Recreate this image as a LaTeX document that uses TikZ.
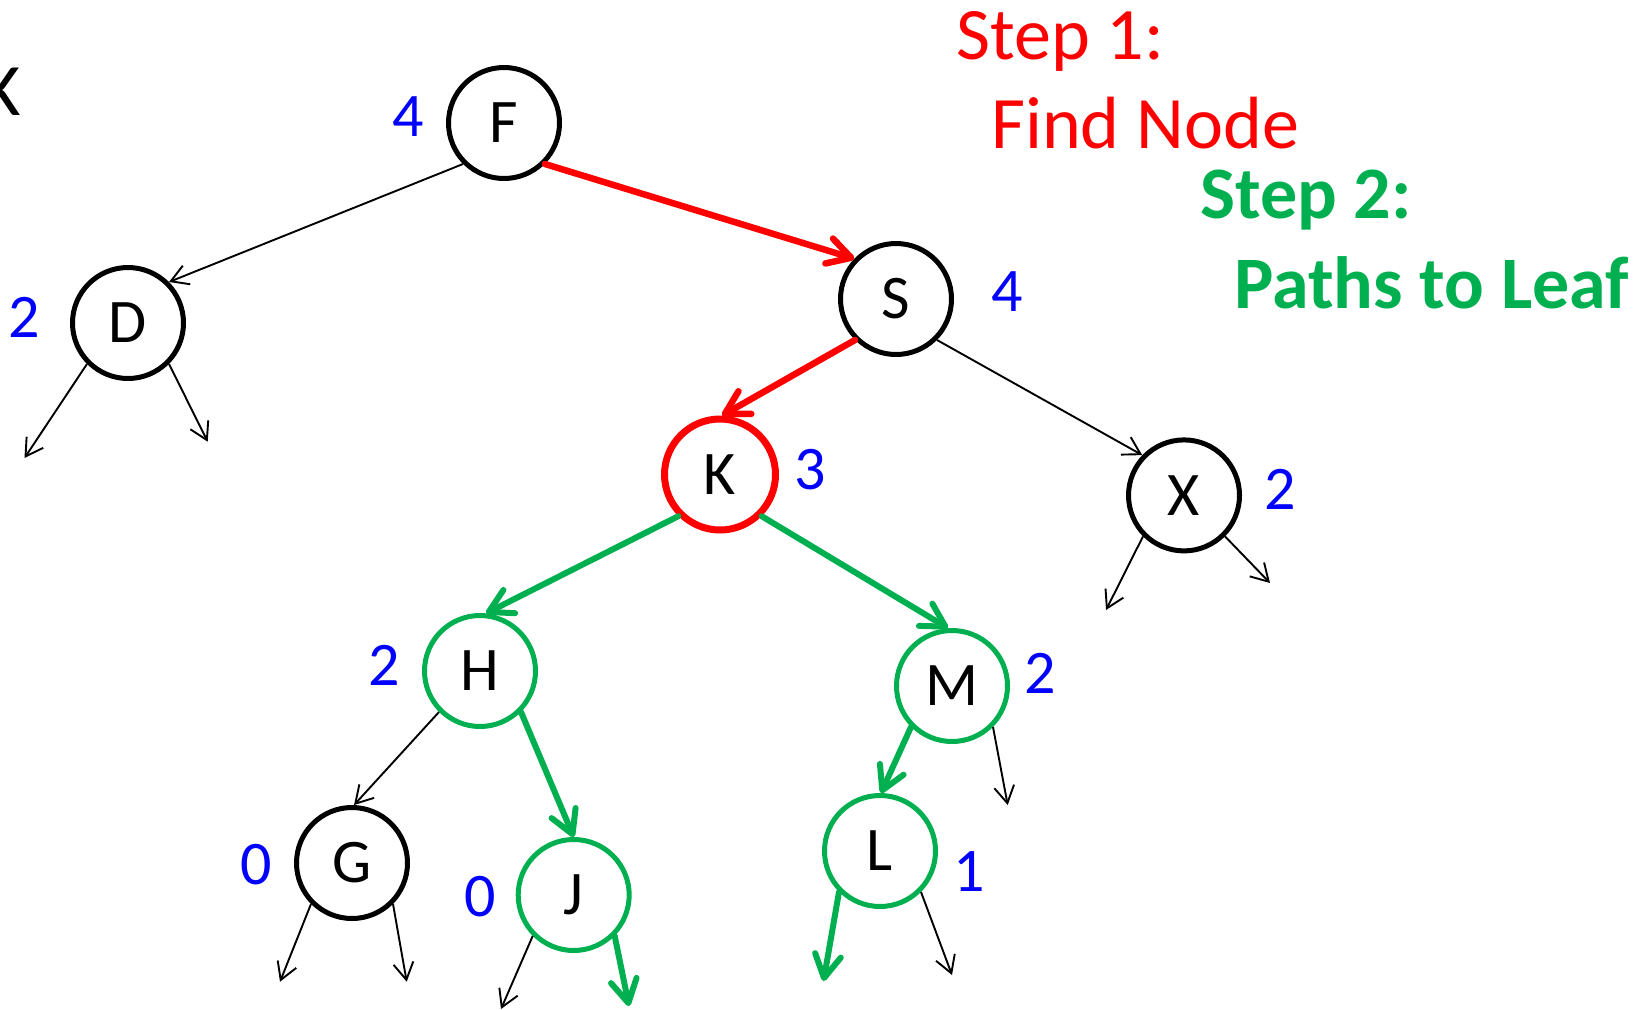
\documentclass[tikz,border=0pt]{standalone}
\usepackage{fontspec}
\setmainfont{Carlito}
\usetikzlibrary{arrows.meta}

\definecolor{pathred}{RGB}{255,0,0}
\definecolor{pathgreen}{RGB}{0,176,80}
\definecolor{weightblue}{RGB}{0,0,255}

\begin{document}
\begin{tikzpicture}[x=1pt,y=-1pt,
  treenode/.style={circle, draw=black, line width=5pt, minimum size=111pt,
    inner sep=0pt, font=\fontsize{62}{62}\selectfont},
  found/.style={draw=pathred, line width=7pt},
  onpath/.style={draw=pathgreen},
  weight/.style={text=weightblue, inner sep=0pt, font=\fontsize{62}{62}\selectfont},
  thin edge/.style={line width=1.9pt, -{Straight Barb[length=17pt,width=20pt]}},
  search edge/.style={pathred, line width=6.5pt, line cap=round,
    -{Straight Barb[length=23pt,width=26pt,round]}},
  leaf edge/.style={pathgreen, line width=6pt, line cap=round,
    -{Straight Barb[length=23pt,width=26pt,round]}},
  heading/.style={anchor=base west, inner sep=0pt, font=\fontsize{74}{74}\selectfont},
]
\clip (0,0) rectangle (1645,1009);

% headings
\node[heading, anchor=base east] (kname) at (21,115) {K};
\node[heading, text=pathred] (step1) at (956,59) {Step 1:};
\node[heading, text=pathred] (find) at (991,148) {Find Node};
\node[heading, text=pathgreen, font=\fontsize{74}{74}\selectfont\bfseries] (step2) at (1200,218) {Step 2:};
\node[heading, text=pathgreen, font=\fontsize{74}{74}\selectfont\bfseries] (paths) at (1234,308) {Paths to Leaf};

% tree nodes
\node[treenode] (F) at (504,123) {F};
\node[treenode] (D) at (128,323) {D};
\node[treenode] (S) at (896,299) {S};
\node[treenode, found] (K) at (720,474.5) {K};
\node[treenode] (X) at (1184,495.4) {X};
\node[treenode, onpath] (H) at (480,671) {H};
\node[treenode, onpath] (M) at (952,686) {M};
\node[treenode] (G) at (352,863) {G};
\node[treenode, onpath] (J) at (573.7,895) {J};
\node[treenode, onpath] (L) at (880,851) {L};

% heights
\node[weight] (wF) at (408,117) {4};
\node[weight] (wD) at (24,317) {2};
\node[weight] (wS) at (1007.5,292) {4};
\node[weight] (wK) at (810,470) {3};
\node[weight] (wX) at (1280,489) {2};
\node[weight] (wH) at (384,665) {2};
\node[weight] (wM) at (1040,673) {2};
\node[weight] (wG) at (256.5,865) {0};
\node[weight] (wJ) at (480.5,897) {0};
\node[weight] (wL) at (969,871.5) {1};

% loose ends of subtrees not shown
\coordinate (dl) at (24.5,458);
\coordinate (dr) at (207.7,441.7);
\coordinate (xl) at (1106,610);
\coordinate (xr) at (1270,583);
\coordinate (mr) at (1007.7,805);
\coordinate (gl) at (280,981.7);
\coordinate (gr) at (406.7,981.7);
\coordinate (jl) at (501,1009);
\coordinate (jr) at (629,1006);
\coordinate (ll) at (823.5,981);
\coordinate (lr) at (952,975);

% search path
\draw[search edge] (F.315) -- (S.136);
\draw[search edge] (S.225) -- (K.88);

% paths down to the leaves
\draw[leaf edge] (K.225) -- (H.84);
\draw[leaf edge] (K.315) -- (M.94);
\draw[leaf edge] (H.315) -- (J.north);
\draw[leaf edge] (M.225) -- (L.89);
\draw[leaf edge] (J.315) -- (jr);
\draw[leaf edge] (L.225) -- (ll);

% other edges
\draw[thin edge] (F.225) -- (D.45);
\draw[thin edge] (S.315) -- (X.136);
\draw[thin edge] (D.225) -- (dl);
\draw[thin edge] (D.315) -- (dr);
\draw[thin edge] (X.225) -- (xl);
\draw[thin edge] (X.315) -- (xr);
\draw[thin edge] (H.225) -- (G.88);
\draw[thin edge] (M.315) -- (mr);
\draw[thin edge] (G.225) -- (gl);
\draw[thin edge] (G.315) -- (gr);
\draw[thin edge] (J.225) -- (jl);
\draw[thin edge] (L.315) -- (lr);
\end{tikzpicture}
\end{document}
